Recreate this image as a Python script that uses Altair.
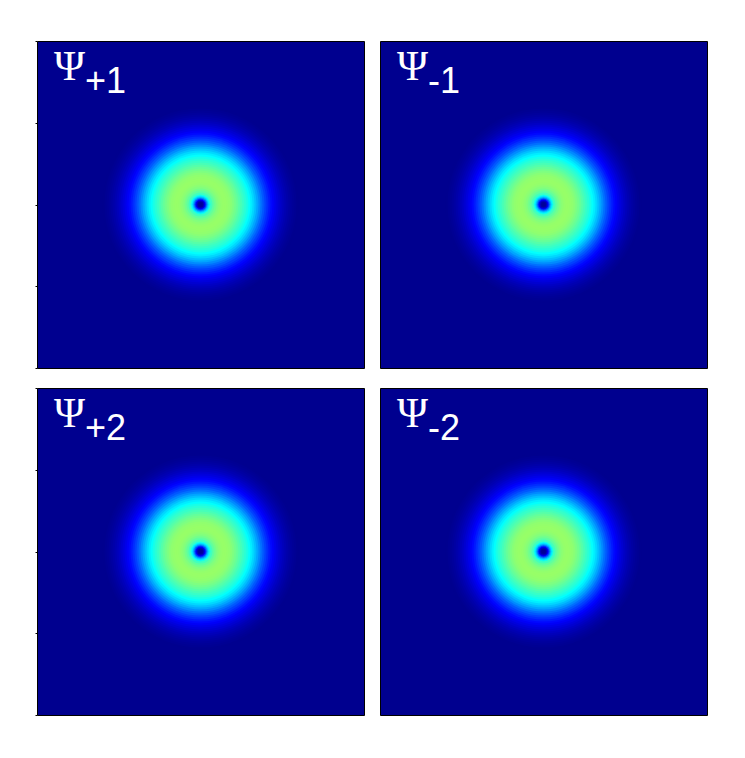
import altair as alt
import pandas as pd

# ---- data ----
panel_subscripts = ["+1", "-1", "+2", "-2"]

# radial intensity profile (radius in px from ring centre, normalised colour value)
radius_px = [98, 96, 94, 92, 90, 88, 86, 84, 82, 80, 78, 76, 74, 72, 70, 68, 66, 64, 62, 60,
             58, 56, 54, 52, 50, 48, 46, 44, 42, 40, 38, 36, 34, 32, 30, 28, 26, 24, 22, 20,
             18, 16, 14, 12, 10, 9, 8, 7, 6, 5, 4, 3, 2]
intensity = [0.0, 0.004, 0.008, 0.013, 0.019, 0.026, 0.034, 0.043, 0.053, 0.064, 0.076, 0.089, 0.103, 0.118, 0.135, 0.155, 0.175, 0.198, 0.222, 0.248,
             0.275, 0.30, 0.325, 0.348, 0.368, 0.388, 0.405, 0.42, 0.435, 0.45, 0.465, 0.478, 0.49, 0.50, 0.508, 0.512, 0.515, 0.515, 0.512, 0.505,
             0.495, 0.48, 0.46, 0.43, 0.39, 0.35, 0.31, 0.25, 0.18, 0.11, 0.06, 0.02, 0.01]

tick_fractions = [0, 0.25, 0.5, 0.75, 1]

JET_DOMAIN = [0, 0.111, 0.365, 0.619, 0.873, 1.0]
JET_RANGE = ["#00008F", "#0000FF", "#00FFFF", "#FFFF00", "#FF0000", "#800000"]

W = 327
H = 327
HALF = W / 2
BG = "#00008F"

prof = pd.DataFrame({"r": radius_px, "v": intensity}).sort_values("r", ascending=False)


def panel(sub, left):
    rings = alt.Chart(prof).mark_arc(theta=0, theta2=6.2832).encode(
        radius=alt.Radius("r:Q", stack=None,
                          scale=alt.Scale(type="linear", domain=[0, HALF], range=[0, HALF], zero=True)),
        color=alt.Color("v:Q", scale=alt.Scale(domain=JET_DOMAIN, range=JET_RANGE, interpolate="rgb"), legend=None),
    )
    lab = pd.DataFrame({"sub": [sub]})
    psi = alt.Chart(lab).mark_text(
        text="Ψ", font="Liberation Serif", fontSize=42, color="white",
        align="left", baseline="alphabetic"
    ).encode(x=alt.value(17), y=alt.value(39))
    subt = alt.Chart(lab).mark_text(
        font="Liberation Sans", fontSize=36, color="white",
        align="left", baseline="alphabetic"
    ).encode(text="sub:N", x=alt.value(48), y=alt.value(52))
    layers = [rings, psi, subt]
    if left:
        ticks = alt.Chart(pd.DataFrame({"t": tick_fractions})).mark_point(opacity=0).encode(
            y=alt.Y("t:Q", scale=alt.Scale(domain=[0, 1], nice=False, zero=False),
                    axis=alt.Axis(values=tick_fractions, labels=False, title=None, domain=False,
                                  tickSize=2, tickColor="black", minExtent=0, grid=False))
        )
        layers = layers + [ticks]
    return alt.layer(*layers).properties(
        width=W, height=H,
        view=alt.ViewBackground(fill=BG, stroke="black", strokeWidth=1),
    )


row1 = alt.hconcat(panel(panel_subscripts[0], True), panel(panel_subscripts[1], False), spacing=14)
row2 = alt.hconcat(panel(panel_subscripts[2], True), panel(panel_subscripts[3], False), spacing=14)

chart = alt.vconcat(row1, row2, spacing=12).properties(
    padding={"left": 26, "top": 29, "right": 0, "bottom": 0}
).configure_view(stroke="black", strokeWidth=1, fill=BG)

chart.save("out.html", embed_options={"renderer": "svg", "actions": False})
